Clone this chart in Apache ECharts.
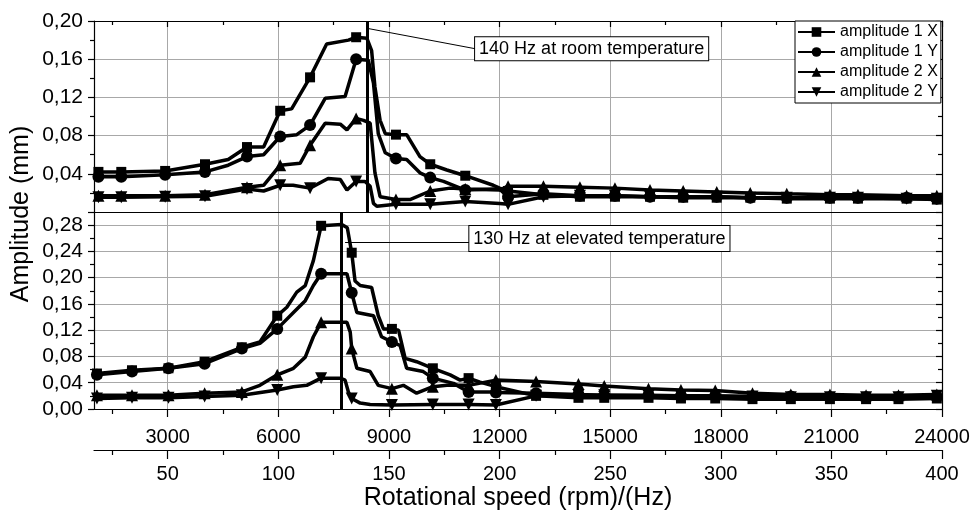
<!DOCTYPE html>
<html><head><meta charset="utf-8">
<script src="https://cdn.jsdelivr.net/npm/echarts@6/dist/echarts.min.js"></script>
<style>html,body{margin:0;padding:0;background:#fff}#c{width:973px;height:515px}</style>
</head><body><div id="c"></div>
<script>
// ---------- data ----------
const seriesNames = ['amplitude 1 X', 'amplitude 1 Y', 'amplitude 2 X', 'amplitude 2 Y'];
const rpmTicks = [3000, 6000, 9000, 12000, 15000, 18000, 21000, 24000];
const rpmMinorTicks = [1500, 4500, 7500, 10500, 13500, 16500, 19500, 22500];
const hzTicks = [50, 100, 150, 200, 250, 300, 350, 400];
const hzMinorTicks = [25, 75, 125, 175, 225, 275, 325, 375];
const topAmpTicks = [0.04, 0.08, 0.12, 0.16, 0.20];
const botAmpTicks = [0, 0.04, 0.08, 0.12, 0.16, 0.20, 0.24, 0.28];
const botAmpMinor = [0.02, 0.06, 0.10, 0.14, 0.18, 0.22, 0.26];

// top panel: room temperature
const topMarkerRpm = [1120, 1740, 2930, 4010, 5150, 6050, 6860, 8110, 9190, 10120, 11070, 12230, 13190, 14180, 15130, 16080, 16980, 17890, 18800, 19790, 20960, 21720, 23040, 23860];
const topA1X = [0.042, 0.042, 0.043, 0.050, 0.068, 0.106, 0.141, 0.183, 0.081, 0.050, 0.038, 0.022, 0.018, 0.016, 0.016, 0.016, 0.015, 0.015, 0.015, 0.014, 0.014, 0.014, 0.014, 0.013];
const topA1XExtra = [[4640, 0.055], [5600, 0.068], [6360, 0.108], [7310, 0.176], [7900, 0.180], [8400, 0.182], [8530, 0.169], [8620, 0.131], [8760, 0.096], [8900, 0.082], [9480, 0.081], [9840, 0.058], [10570, 0.044], [11830, 0.028], [12000, 0.025]];
const topA1Y = [0.037, 0.037, 0.039, 0.042, 0.058, 0.079, 0.091, 0.160, 0.056, 0.036, 0.023, 0.016, 0.019, 0.017, 0.017, 0.016, 0.016, 0.016, 0.015, 0.015, 0.015, 0.015, 0.015, 0.014];
const topA1YExtra = [[4640, 0.049], [5600, 0.060], [6500, 0.081], [7270, 0.119], [7810, 0.121], [8440, 0.159], [8580, 0.135], [8710, 0.082], [8900, 0.062], [9480, 0.055], [9840, 0.041], [10480, 0.032], [11830, 0.024], [12000, 0.024]];
const topA2X = [0.017, 0.017, 0.017, 0.018, 0.026, 0.049, 0.070, 0.098, 0.013, 0.022, 0.024, 0.027, 0.027, 0.026, 0.025, 0.023, 0.022, 0.021, 0.020, 0.019, 0.018, 0.018, 0.017, 0.017];
const topA2XExtra = [[5600, 0.028], [6590, 0.051], [7270, 0.093], [7680, 0.092], [7860, 0.086], [8310, 0.096], [8490, 0.093], [8620, 0.041], [8760, 0.016], [9570, 0.013], [10660, 0.025], [12000, 0.023]];
const topA2Y = [0.0155, 0.0155, 0.016, 0.0165, 0.024, 0.028, 0.025, 0.032, 0.008, 0.008, 0.011, 0.008, 0.016, 0.017, 0.017, 0.016, 0.016, 0.016, 0.015, 0.015, 0.015, 0.015, 0.014, 0.014];
const topA2YExtra = [[5600, 0.022], [6400, 0.028], [7350, 0.035], [7680, 0.034], [7860, 0.023], [8350, 0.032], [8490, 0.027], [8580, 0.009], [8670, 0.006], [12000, 0.009]];

// bottom panel: elevated temperature
const botMarkerRpm = [1080, 2030, 3020, 4000, 5010, 5970, 7160, 7990, 9080, 10190, 11160, 11900, 12990, 14140, 14840, 16040, 16920, 17850, 18860, 19900, 20960, 21940, 22820, 23860];
const botA1X = [0.054, 0.059, 0.062, 0.072, 0.094, 0.142, 0.279, 0.238, 0.122, 0.062, 0.047, 0.034, 0.020, 0.017, 0.017, 0.017, 0.016, 0.016, 0.015, 0.015, 0.015, 0.015, 0.015, 0.016];
const botA1XExtra = [[5500, 0.102], [6230, 0.155], [6500, 0.178], [6730, 0.188], [6950, 0.226], [7720, 0.281], [7870, 0.276], [8080, 0.195], [8220, 0.188], [8530, 0.185], [8710, 0.142], [8850, 0.122], [9260, 0.120], [9440, 0.077], [9750, 0.072], [10660, 0.052], [10930, 0.044], [11470, 0.041]];
const botA1Y = [0.052, 0.057, 0.062, 0.069, 0.092, 0.122, 0.206, 0.177, 0.102, 0.047, 0.026, 0.025, 0.024, 0.022, 0.021, 0.021, 0.020, 0.020, 0.019, 0.019, 0.018, 0.018, 0.018, 0.019];
const botA1YExtra = [[5500, 0.100], [6410, 0.147], [6730, 0.165], [6950, 0.188], [7860, 0.206], [8130, 0.147], [8580, 0.142], [8800, 0.110], [9300, 0.097], [9480, 0.062], [9930, 0.057], [10750, 0.039], [11830, 0.026]];
const botA2X = [0.021, 0.021, 0.021, 0.024, 0.026, 0.052, 0.132, 0.092, 0.031, 0.034, 0.036, 0.044, 0.042, 0.038, 0.035, 0.031, 0.029, 0.028, 0.024, 0.022, 0.022, 0.021, 0.021, 0.022];
const botA2XExtra = [[5500, 0.036], [6410, 0.062], [6730, 0.079], [6950, 0.110], [7860, 0.132], [7950, 0.117], [8130, 0.062], [8490, 0.057], [8710, 0.036], [9390, 0.036], [9750, 0.024], [10570, 0.036]];
const botA2Y = [0.016, 0.017, 0.017, 0.019, 0.021, 0.029, 0.047, 0.016, 0.006, 0.007, 0.007, 0.006, 0.020, 0.021, 0.021, 0.020, 0.020, 0.019, 0.019, 0.018, 0.018, 0.018, 0.018, 0.020];
const botA2YExtra = [[6410, 0.034], [6770, 0.036], [7680, 0.047], [7810, 0.044], [7900, 0.026], [8220, 0.009], [8490, 0.007]];

// resonance markers (rpm)
const resonanceTopRpm = 8400;
const resonanceBotRpm = 7700;

// ---------- build ----------
const FONT = 'Liberation Sans, Arial, sans-serif';
const symbols = ['rect', 'circle', 'triangle', 'path://M0,0L10,0L5,10Z'];
const symbolSizes = [10, 12, 12, 12];

function merge(xs, ys, extra) {
  const pts = xs.map((x, i) => [x, ys[i]]).concat(extra.map(p => [p[0], p[1]]));
  pts.sort((a, b) => a[0] - b[0]);
  return pts;
}
const topSets = [[topA1X, topA1XExtra], [topA1Y, topA1YExtra], [topA2X, topA2XExtra], [topA2Y, topA2YExtra]];
const botSets = [[botA1X, botA1XExtra], [botA1Y, botA1YExtra], [botA2X, botA2XExtra], [botA2Y, botA2YExtra]];

const fmt = v => v.toFixed(2).replace('.', ',');
const gridLine = () => ({ show: true, lineStyle: { color: '#a8a8a8', width: 1 } });
const blackLine = () => ({ show: true, onZero: false, lineStyle: { color: '#000', width: 1.2 } });
const noLine = () => ({ show: false, onZero: false });
const tickStyle = () => ({ color: '#000', width: 1.2 });

const series = [];
[[topSets, topMarkerRpm, 0, 0], [botSets, botMarkerRpm, 3, 2]].forEach(([sets, mx, xi, yi]) => {
  sets.forEach(([ys, extra], i) => {
    series.push({
      type: 'line', name: seriesNames[i], xAxisIndex: xi, yAxisIndex: yi,
      data: merge(mx, ys, extra), showSymbol: false, symbol: symbols[i], symbolSize: symbolSizes[i],
      symbolKeepAspect: true,
      lineStyle: { color: '#000', width: 3.5 }, itemStyle: { color: '#000' },
      z: 3, animation: false, silent: true
    });
  });
  sets.forEach(([ys], i) => {
    series.push({
      type: 'scatter', name: seriesNames[i], xAxisIndex: xi, yAxisIndex: yi,
      data: mx.map((x, k) => [x, ys[k]]), symbol: symbols[i], symbolSize: symbolSizes[i],
      symbolKeepAspect: true, itemStyle: { color: '#000', opacity: 1 }, z: 4, animation: false, silent: true
    });
  });
});

// annotations
series.push({
  type: 'line', xAxisIndex: 0, yAxisIndex: 0, data: [], animation: false, silent: true,
  markLine: {
    silent: true, animation: false, symbol: 'none', label: { show: false },
    lineStyle: { color: '#000', width: 3, type: 'solid' },
    data: [{ xAxis: resonanceTopRpm }]
  }
});
series.push({
  type: 'line', xAxisIndex: 0, yAxisIndex: 0, data: [], animation: false, silent: true,
  markLine: {
    silent: true, animation: false, symbol: ['none', 'arrow'], symbolSize: [0, 9], label: { show: false },
    lineStyle: { color: '#000', width: 1, type: 'solid' },
    data: [[{ coord: [11336, 0.171] }, { coord: [8450, 0.192] }]]
  },
  markPoint: {
    silent: true, animation: false, symbol: 'circle', symbolSize: 0,
    itemStyle: { color: 'rgba(0,0,0,0)' },
    label: {
      show: true, position: 'right', distance: 0, formatter: '140 Hz at room temperature',
      color: '#000', fontFamily: FONT, fontSize: 18, backgroundColor: '#fff',
      borderColor: '#000', borderWidth: 1, padding: [3, 4, 2, 4]
    },
    data: [{ coord: [11336, 0.171] }]
  }
});
series.push({
  type: 'line', xAxisIndex: 3, yAxisIndex: 2, data: [], animation: false, silent: true,
  markLine: {
    silent: true, animation: false, symbol: 'none', label: { show: false },
    lineStyle: { color: '#000', width: 3, type: 'solid' },
    data: [{ xAxis: resonanceBotRpm }]
  }
});
series.push({
  type: 'line', xAxisIndex: 3, yAxisIndex: 2, data: [], animation: false, silent: true,
  markLine: {
    silent: true, animation: false, symbol: 'none', label: { show: false },
    lineStyle: { color: '#000', width: 1, type: 'solid' },
    data: [[{ coord: [7810, 0.2545] }, { coord: [11180, 0.2545] }]]
  },
  markPoint: {
    silent: true, animation: false, symbol: 'circle', symbolSize: 0,
    itemStyle: { color: 'rgba(0,0,0,0)' },
    label: {
      show: true, position: 'right', distance: 0, formatter: '130 Hz at elevated temperature',
      color: '#000', fontFamily: FONT, fontSize: 18, backgroundColor: '#fff',
      borderColor: '#000', borderWidth: 1, padding: [4, 4, 3, 4]
    },
    data: [{ coord: [11180, 0.2595] }]
  }
});

const RPM_MIN = 1000, RPM_MAX = 24000;
const plain = v => String(Math.round(v));
function xAx(extra) { return Object.assign({ type: 'value', min: RPM_MIN, max: RPM_MAX }, extra); }
const option = {
  backgroundColor: '#fff',
  animation: false,
  grid: [
    { left: 94, right: 31, top: 21, height: 191 },
    { left: 94, right: 31, top: 212, height: 197 }
  ],
  legend: {
    data: seriesNames, orient: 'vertical', left: 795, top: 21,
    padding: [3, 3, 3, 2], itemGap: 4, itemWidth: 37, itemHeight: 12,
    backgroundColor: '#fff', borderColor: '#000', borderWidth: 1,
    selectedMode: false,
    textStyle: { color: '#000', fontFamily: FONT, fontSize: 16 }
  },
  xAxis: [
    // 0 top panel, bottom edge
    xAx({ gridIndex: 0, position: 'bottom', axisLine: blackLine(),
      axisTick: { show: false, customValues: rpmTicks.slice(0, 7) }, axisLabel: { show: false, customValues: rpmTicks.slice(0, 7) },
      splitLine: gridLine() }),
    // 1 top panel, top edge major ticks
    xAx({ gridIndex: 0, position: 'top', axisLine: blackLine(),
      axisTick: { show: true, inside: true, length: 6, lineStyle: tickStyle(), customValues: rpmTicks },
      axisLabel: { show: false, customValues: rpmTicks }, splitLine: { show: false } }),
    // 2 top panel, top edge minor ticks
    xAx({ gridIndex: 0, position: 'top', axisLine: noLine(),
      axisTick: { show: true, inside: true, length: 4, lineStyle: tickStyle(), customValues: rpmMinorTicks },
      axisLabel: { show: false, customValues: rpmMinorTicks }, splitLine: { show: false } }),
    // 3 bottom panel, rpm axis
    xAx({ gridIndex: 1, position: 'bottom', axisLine: blackLine(),
      axisTick: { show: true, length: 8, lineStyle: tickStyle(), customValues: rpmTicks },
      axisLabel: { show: true, customValues: rpmTicks, formatter: plain, margin: 18, color: '#000', fontFamily: FONT, fontSize: 20 },
      splitLine: gridLine() }),
    // 4 bottom panel, rpm minor ticks
    xAx({ gridIndex: 1, position: 'bottom', axisLine: noLine(),
      axisTick: { show: true, length: 5, lineStyle: tickStyle(), customValues: rpmMinorTicks },
      axisLabel: { show: false, customValues: rpmMinorTicks }, splitLine: { show: false } }),
    // 5 Hz axis
    { type: 'value', gridIndex: 1, position: 'bottom', offset: 41, min: RPM_MIN / 60, max: RPM_MAX / 60,
      axisLine: blackLine(),
      axisTick: { show: true, length: 9, lineStyle: tickStyle(), customValues: hzTicks },
      axisLabel: { show: true, customValues: hzTicks, formatter: plain, margin: 14, color: '#000', fontFamily: FONT, fontSize: 20 },
      splitLine: { show: false },
      name: 'Rotational speed (rpm)/(Hz)', nameLocation: 'middle', nameGap: 36,
      nameTextStyle: { color: '#000', fontFamily: FONT, fontSize: 25 } },
    // 6 Hz minor ticks
    { type: 'value', gridIndex: 1, position: 'bottom', offset: 41, min: RPM_MIN / 60, max: RPM_MAX / 60,
      axisLine: noLine(),
      axisTick: { show: true, length: 5, lineStyle: tickStyle(), customValues: hzMinorTicks },
      axisLabel: { show: false, customValues: hzMinorTicks }, splitLine: { show: false } }
  ],
  yAxis: [
    // 0 top left
    { type: 'value', gridIndex: 0, position: 'left', min: 0, max: 0.20, interval: 0.04,
      axisLine: blackLine(),
      axisTick: { show: true, length: 6, lineStyle: tickStyle() },
      minorTick: { show: true, splitNumber: 2, length: 4, lineStyle: tickStyle() },
      axisLabel: { show: true, customValues: topAmpTicks, formatter: fmt, margin: 11, color: '#000', fontFamily: FONT, fontSize: 21 },
      splitLine: gridLine() },
    // 1 top right
    { type: 'value', gridIndex: 0, position: 'right', min: 0, max: 0.20, interval: 0.04,
      axisLine: blackLine(),
      axisTick: { show: true, inside: true, length: 6, lineStyle: tickStyle() },
      minorTick: { show: true, splitNumber: 2, length: 4, lineStyle: tickStyle() },
      axisLabel: { show: false }, splitLine: { show: false } },
    // 2 bottom left
    { type: 'value', gridIndex: 1, position: 'left', min: 0, max: 0.30,
      axisLine: blackLine(),
      axisTick: { show: true, length: 6, lineStyle: tickStyle(), customValues: botAmpTicks },
      axisLabel: { show: true, customValues: botAmpTicks, formatter: fmt, margin: 11, color: '#000', fontFamily: FONT, fontSize: 21 },
      splitLine: gridLine() },
    // 3 bottom left minor
    { type: 'value', gridIndex: 1, position: 'left', min: 0, max: 0.30,
      axisLine: noLine(),
      axisTick: { show: true, length: 4, lineStyle: tickStyle(), customValues: botAmpMinor },
      axisLabel: { show: false, customValues: botAmpMinor }, splitLine: { show: false } },
    // 4 bottom right
    { type: 'value', gridIndex: 1, position: 'right', min: 0, max: 0.30,
      axisLine: blackLine(),
      axisTick: { show: true, inside: true, length: 6, lineStyle: tickStyle(), customValues: botAmpTicks },
      axisLabel: { show: false, customValues: botAmpTicks }, splitLine: { show: false } },
    // 5 bottom right minor
    { type: 'value', gridIndex: 1, position: 'right', min: 0, max: 0.30,
      axisLine: noLine(),
      axisTick: { show: true, inside: true, length: 4, lineStyle: tickStyle(), customValues: botAmpMinor },
      axisLabel: { show: false, customValues: botAmpMinor }, splitLine: { show: false } }
  ],
  graphic: [{
    type: 'text', x: 21, y: 214, rotation: Math.PI / 2,
    style: { text: 'Amplitude (mm)', fill: '#000', font: '25px ' + FONT, align: 'center', verticalAlign: 'middle' }
  }],
  series: series
};
const chart = echarts.init(document.getElementById('c'), null, { renderer: 'canvas' });
chart.setOption(option);
</script></body></html>
